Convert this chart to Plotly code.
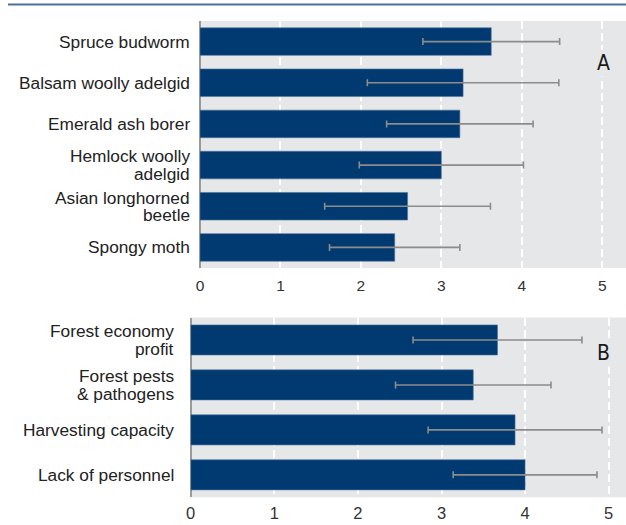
import plotly.graph_objects as go

# Panel A
pests = ["Spruce budworm", "Balsam woolly adelgid", "Emerald ash borer",
         "Hemlock woolly<br>adelgid", "Asian longhorned<br>beetle", "Spongy moth"]
pest_mean = [3.62, 3.27, 3.23, 3.00, 2.58, 2.42]
pest_sd = [0.85, 1.19, 0.91, 1.02, 1.03, 0.81]

# Panel B
factors = ["Forest economy<br>profit", "Forest pests<br>& pathogens",
           "Harvesting capacity", "Lack of personnel"]
factor_mean = [3.67, 3.38, 3.88, 4.00]
factor_sd = [1.01, 0.93, 1.04, 0.86]

tick_vals = [0, 1, 2, 3, 4, 5]
tick_text = ["0", "1", "2", "3", "4", "5"]

BAR = "#003A70"
ERR = "#8C8C8C"
BG = "#E6E7E9"
FONT = "Liberation Sans, Arial, sans-serif"
LABEL_SIZE = 17.3
LINE_STEP = 17.2

fig = go.Figure()
fig.add_trace(go.Bar(
    y=pests, x=pest_mean, orientation="h", xaxis="x", yaxis="y",
    marker=dict(color=BAR, line=dict(color="#4F72A0", width=0.6)),
    error_x=dict(type="data", array=pest_sd, color=ERR, thickness=1.6, width=3.5),
    showlegend=False))
fig.add_trace(go.Bar(
    y=factors, x=factor_mean, orientation="h", xaxis="x2", yaxis="y2",
    marker=dict(color=BAR, line=dict(color="#4F72A0", width=0.6)),
    error_x=dict(type="data", array=factor_sd, color=ERR, thickness=1.6, width=3.5),
    showlegend=False))

W, H = 626, 525


def xaxis_style(size):
    return dict(
        tickvals=tick_vals, ticktext=tick_text, showgrid=True, gridcolor="white",
        gridwidth=1.5, griddash="8px,4px", zeroline=True, zerolinecolor="#9A9A9A",
        zerolinewidth=1.5, showline=False, ticks="",
        tickfont=dict(size=size, color="#333333", family=FONT),
        automargin=False, fixedrange=True)


ya_common = dict(showgrid=False, zeroline=False, ticks="", autorange="reversed",
                 showticklabels=False, automargin=False)

annotations = []


def add_labels(cats, yref, xpos):
    for c in cats:
        lines = c.split("<br>")
        n = len(lines)
        for i, ln in enumerate(lines):
            annotations.append(dict(
                text=ln, xref="paper", yref=yref, x=xpos, y=c,
                xanchor="right", yanchor="middle", showarrow=False,
                yshift=-(i - (n - 1) / 2) * LINE_STEP,
                font=dict(size=LABEL_SIZE, color="#222222", family=FONT)))


add_labels(pests, "y", 192 / W)
add_labels(factors, "y2", 176 / W)

for letter, ypx in (("A", 63), ("B", 353)):
    annotations.append(dict(
        text=letter, xref="paper", yref="paper", x=603 / W, y=1 - ypx / H,
        showarrow=False, xanchor="center", yanchor="middle", bgcolor=BG,
        font=dict(size=21, color="#1A1A1A", family="DejaVu Sans Condensed, Liberation Sans Narrow, sans-serif")))

fig.update_layout(
    width=W, height=H,
    margin=dict(l=0, r=0, t=0, b=0),
    paper_bgcolor="white", plot_bgcolor=BG,
    bargap=0.33,
    font=dict(family=FONT),
    xaxis=dict(domain=[200 / W, 1], range=[0, 5.295], anchor="y",
               ticklabelstandoff=6, **xaxis_style(15.5)),
    yaxis=dict(domain=[1 - 268 / H, 1 - 21 / H], anchor="x", **ya_common),
    xaxis2=dict(domain=[190.7 / W, 1], range=[0, 5.207], anchor="y2",
                ticklabelstandoff=4, **xaxis_style(16.5)),
    yaxis2=dict(domain=[1 - 497.3 / H, 1 - 317.5 / H], anchor="x2", **ya_common),
    shapes=[dict(type="line", xref="paper", yref="paper", x0=8 / W, x1=1,
                 y0=1 - 4.5 / H, y1=1 - 4.5 / H, line=dict(color="#4A6F9A", width=2))],
    annotations=annotations,
)

fig.write_html("out.html")
